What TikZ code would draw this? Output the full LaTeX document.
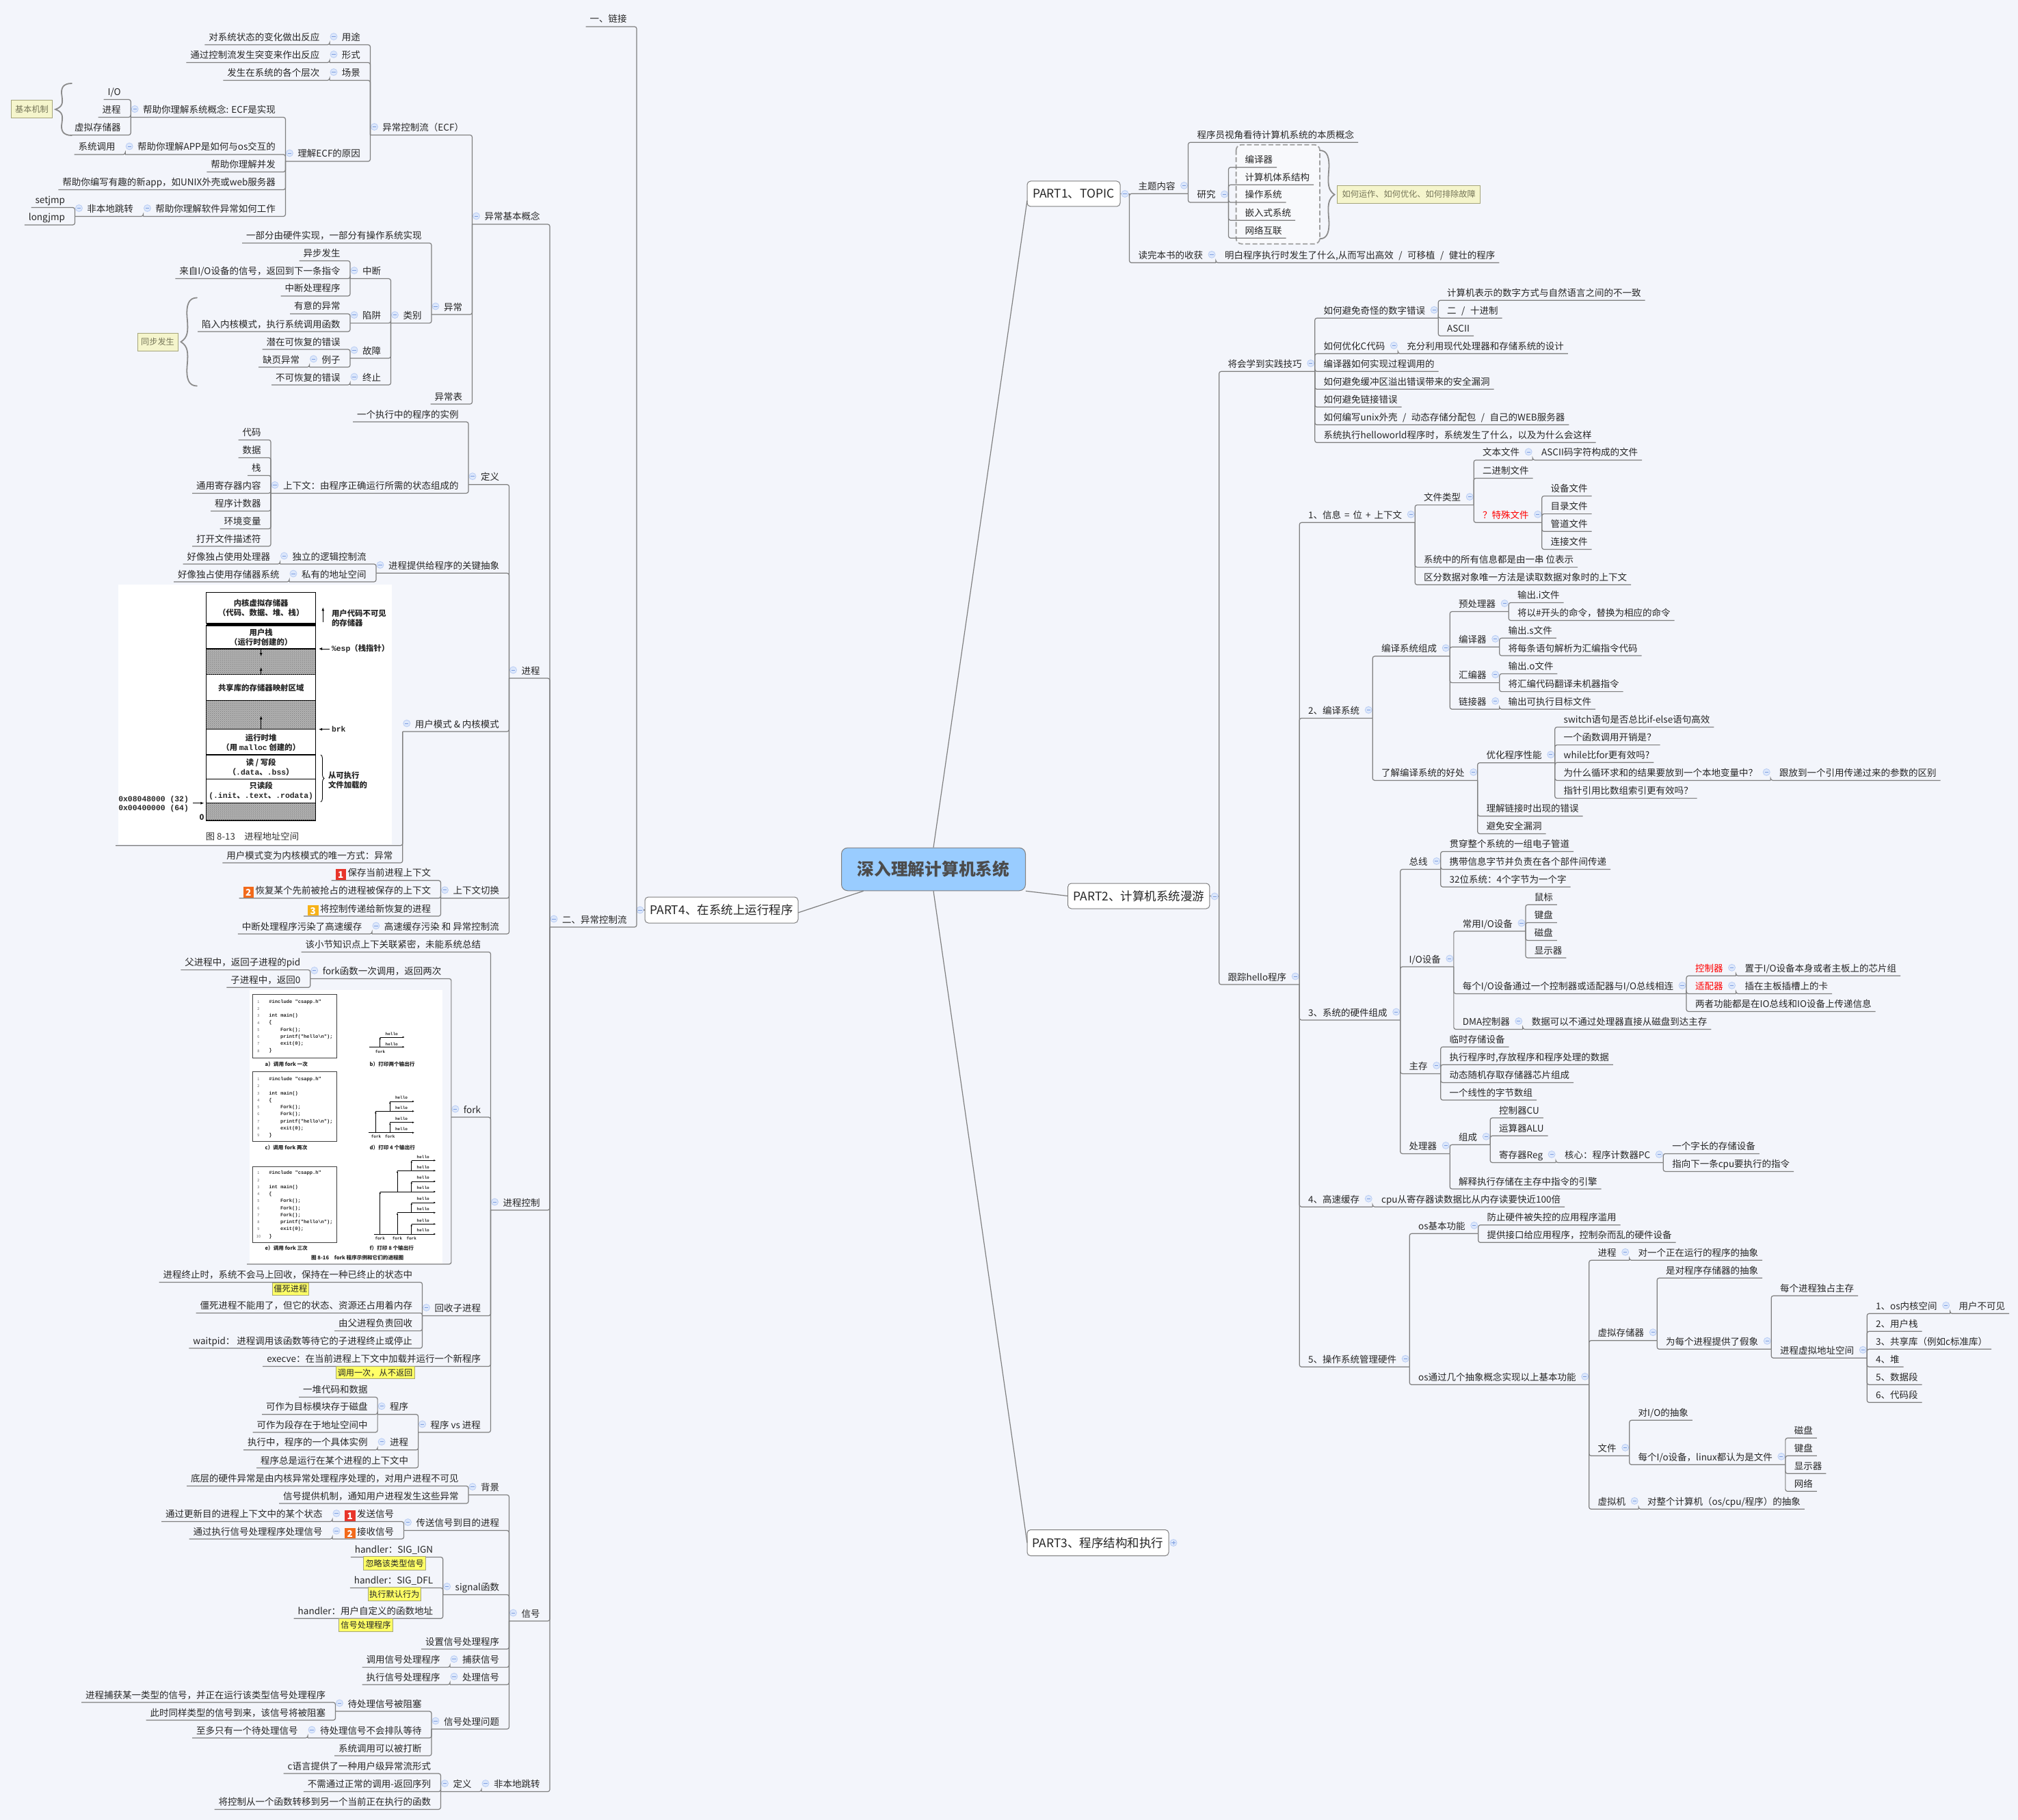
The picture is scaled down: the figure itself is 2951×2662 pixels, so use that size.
\documentclass[tikz,border=0pt]{standalone}
\usepackage{fontspec}
\setmainfont{Noto Sans CJK SC}
\newfontfamily\figmono{Liberation Mono}
\usetikzlibrary{arrows.meta,decorations.pathreplacing,patterns}

\definecolor{pagebg}{HTML}{F3F5FB}
\definecolor{linegray}{HTML}{7F7F7F}
\definecolor{rootblue}{HTML}{99CCFF}
\definecolor{foldfill}{HTML}{DCE7FB}
\definecolor{folddraw}{HTML}{B9CDF4}
\definecolor{foldminus}{HTML}{7C9DE0}
\definecolor{noteolive}{HTML}{F5F5CC}
\definecolor{noteedge}{HTML}{A5A57A}
\definecolor{notetext}{HTML}{77775A}
\definecolor{markyellow}{HTML}{FFFF66}
\definecolor{tagone}{HTML}{E8352B}
\definecolor{tagtwo}{HTML}{F26A1B}
\definecolor{tagthree}{HTML}{F7B218}

\tikzset{
  txt/.style={font=\fontsize{13.5}{15}\selectfont, text=black!85, inner xsep=0pt, inner ysep=2pt,
    text height=12pt, text depth=4pt, outer sep=0pt},
  lleaf/.style={txt, anchor=south east, execute at begin node={\hspace*{6pt}}, execute at end node={\hspace*{14.5pt}}},
  lbranch/.style={txt, anchor=south east, execute at begin node={\hspace*{18pt}}, execute at end node={\hspace*{14.5pt}}},
  rleaf/.style={txt, anchor=south west, execute at begin node={\hspace*{13pt}}, execute at end node={\hspace*{6pt}}},
  rbranch/.style={txt, anchor=south west, execute at begin node={\hspace*{13pt}}, execute at end node={\hspace*{19pt}}},
  link/.style={draw=linegray, line width=1.2pt, rounded corners=3pt},
  spoke/.style={draw=linegray, line width=1.2pt},
  foldc/.style={draw=folddraw, fill=foldfill, line width=.8pt},
  foldm/.style={draw=foldminus, line width=.8pt},
  hub/.style={inner sep=0pt, minimum size=0pt, outer sep=0pt},
  partbox/.style={draw=linegray, fill=white, rounded corners=5pt, line width=1pt, inner sep=0pt, outer sep=0pt,
    font=\fontsize{17.5}{20}\selectfont, text=black!85},
  bluenote/.style={draw=noteedge, fill=noteolive, line width=1pt, inner sep=0pt, outer sep=0pt,
    font=\fontsize{12.2}{14}\selectfont, text=notetext},
  marknote/.style={draw=noteedge, fill=markyellow, line width=1pt, inner sep=0pt, outer sep=0pt,
    font=\fontsize{12.2}{14}\selectfont, text=black!85},
  bracel/.style={draw=gray!90, line width=1.8pt, line cap=round},
  figtxt/.style={inner sep=0pt, outer sep=0pt, align=center, text=black!85,
    font=\fontsize{11.4}{13.7}\selectfont\bfseries},
  capt/.style={inner sep=0pt, outer sep=0pt, text=black!80, font=\fontsize{13.3}{15}\selectfont},
  stackrow/.style={draw=black, line width=1.4pt},
  grainrow/.style={draw=black, line width=1.4pt, fill=gray!60},
  grainover/.style={pattern=crosshatch dots, pattern color=black!55},
  figarrow/.style={line width=.9pt, -{Latex[length=5pt,width=4pt]}},
  codetxt/.style={inner sep=0pt, outer sep=0pt, anchor=west, text=black!85,
    font=\fontsize{7.1}{8}\selectfont\figmono\bfseries},
  numtxt/.style={inner sep=0pt, outer sep=0pt, text=black!60, font=\fontsize{5.5}{6}\selectfont},
  hellotxt/.style={inner sep=0pt, outer sep=0pt, text=black!85, font=\fontsize{6}{7}\selectfont\figmono\bfseries},
  smallcap/.style={inner sep=0pt, outer sep=0pt, anchor=west, text=black!85, font=\fontsize{7.6}{9}\selectfont\bfseries},
  treeln/.style={line width=.8pt, -{Latex[length=3pt,width=2.6pt]}},
}

% 节点 + 连线: 左侧分支与右侧分支
\newcommand\foldmark[1]{\draw[foldc] #1 circle[radius=5pt]; \draw[foldm] #1 ++(-2.6pt,0pt) -- ++(5.2pt,0pt);}
\newcommand\leafL[5][]{\node[lleaf,#1] (#3) at (#2.south west |- 0,#4) {#5};
  \draw[link] (#2.south west) |- (#3.south west);}
\newcommand\forkL[5][]{\node[lbranch,#1] (#3) at (#2.south west |- 0,#4) {#5};
  \draw[link] (#2.south west) |- (#3.south west);
  \foldmark{([shift={(6pt,12pt)}]#3.south west)}}
\newcommand\leafR[5][]{\node[rleaf,#1] (#3) at (#2.south east |- 0,#4) {#5};
  \draw[link] (#2.south east) |- (#3.south east);}
\newcommand\forkR[5][]{\node[rbranch,#1] (#3) at (#2.south east |- 0,#4) {#5};
  \draw[link] (#2.south east) |- (#3.south east);
  \foldmark{([shift={(-6pt,12pt)}]#3.south east)}}
\newcommand\seqtag[2]{\raisebox{-3pt}{\setlength{\fboxsep}{2pt}\colorbox{#1}{\makebox[11.5pt]{\rule{0pt}{11.5pt}\textcolor{white}{\bfseries #2}}}}\hspace{2.5pt}}
\newcommand\slashsep{\hspace{7.5pt}/\hspace{7.5pt}}
% 大括号: 起点 x, 尖端 x, 上 y, 下 y
\newcommand\bowbrace[4]{\pgfmathsetmacro{\dx}{#2-#1}\pgfmathsetmacro{\ymid}{(#3+#4)/2}\pgfmathsetmacro{\half}{(#4-#3)/2}
  \begin{scope}[shift={(#1,\ymid)}, x=\dx pt, y=-\half pt]
    \draw[bracel] (0,-1) .. controls (.5,-1) and (.7,-.85) .. (.6,-.5) .. controls (.55,-.25) and (.55,-.1) .. (1,0)
      .. controls (.55,.1) and (.55,.25) .. (.6,.5) .. controls (.7,.85) and (.5,1) .. (0,1);
  \end{scope}}
% 代码框
\newcommand\codebox[5]{\draw[line width=1pt, draw=black!75] (369.3,#2) rectangle (492.3,#3);
  \foreach \n/\ind/\cl in {#5}{
    \pgfmathsetmacro{\cy}{#4+(\n-1)*10.25}
    \pgfmathsetmacro{\cx}{393.3+\ind*16.7}
    \node[numtxt] (#1n\n) at (378,\cy) {\n};
    \node[codetxt] (#1t\n) at (\cx,\cy) {\cl};
  }}

\begin{document}
\begin{tikzpicture}[x=1pt, y=-1pt]
  \useasboundingbox (0,0) rectangle (2951,2662);
  \fill[pagebg] (0,0) rectangle (2951,2662);

  % 图 8-13 进程地址空间
  \fill[white] (172.7,854.7) rectangle (572.7,1235);
  \foreach \ya/\yb in {866.7/911.7, 915/949, 986.7/1024.3, 1066.7/1104, 1104/1139.3, 1139.3/1174.3}{
    \draw[stackrow] (301.7,\ya) rectangle (461.7,\yb);
  }
  \fill[black] (301.7,911) rectangle (461.7,915);
  \foreach \ya/\yb in {949/986.7, 1024.3/1066.7, 1174.3/1200}{
    \draw[grainrow] (301.7,\ya) rectangle (461.7,\yb);
    \fill[grainover] (301.7,\ya) rectangle (461.7,\yb);
  }
  \node[figtxt] (kernelseg) at (381.7,889) {内核虚拟存储器\\（代码、数据、堆、栈）};
  \node[figtxt] (ustackseg) at (381.7,932) {用户栈\\（运行时创建的）};
  \node[figtxt] (sharedseg) at (381.7,1006) {共享库的存储器映射区域};
  \node[figtxt] (heapseg) at (381.7,1086) {运行时堆\\（用 {\figmono malloc} 创建的）};
  \node[figtxt] (rwseg) at (381.7,1122) {读 / 写段\\（{\figmono .data}、{\figmono .bss}）};
  \node[figtxt] (roseg) at (381.7,1157) {只读段\\{\figmono(.init}、{\figmono.text}、{\figmono.rodata)}};
  \draw[figarrow] (381.7,949) -- (381.7,960);
  \draw[figarrow] (381.7,986.7) -- (381.7,976);
  \draw[figarrow] (381.7,1066.7) -- (381.7,1047);
  \draw[figarrow] (472.3,910) -- (472.3,888.3);
  \draw[figarrow] (481.7,949) -- (466,949);
  \draw[figarrow] (481.7,1066.7) -- (466,1066.7);
  \draw[figarrow] (282.3,1174.7) -- (298.3,1174.7);
  \draw[line width=.9pt, decorate, decoration={brace, amplitude=5pt}] (469,1104) -- (469,1173);
  \node[figtxt, anchor=west, align=left] (hiddennote) at (485,904) {用户代码不可见\\的存储器};
  \node[figtxt, anchor=west] (espnote) at (485,949) {{\figmono\%esp}（栈指针）};
  \node[figtxt, anchor=west] (brknote) at (485,1066.7) {{\figmono brk}};
  \node[figtxt, anchor=west, align=left] (loadnote) at (480,1141) {从可执行\\文件加载的};
  \node[figtxt, anchor=west] (addrone) at (173.3,1169.3) {\figmono 0x08048000 (32)};
  \node[figtxt, anchor=west] (addrtwo) at (173.3,1182.3) {\figmono 0x00400000 (64)};
  \node[figtxt] (addrzero) at (295,1195) {0};
  \node[capt] (procimgcap) at (369,1223) {图 8-13\quad 进程地址空间};

  % 图 8-16 fork 示例
  \fill[white] (365,1448.3) rectangle (646.7,1848.3);
  \codebox{coda}{1454}{1547.3}{1465.3}{1/0/\#include "csapp.h",2/0/{},3/0/int main(),4/0/\{,5/1/Fork();,6/1/printf("hello\textbackslash n");,7/1/exit(0);,8/0/\}}
  \codebox{codc}{1567.7}{1669.3}{1578.7}{1/0/\#include "csapp.h",2/0/{},3/0/int main(),4/0/\{,5/1/Fork();,6/1/Fork();,7/1/printf("hello\textbackslash n");,8/1/exit(0);,9/0/\}}
  \codebox{code}{1706}{1817.7}{1716}{1/0/\#include "csapp.h",2/0/{},3/0/int main(),4/0/\{,5/1/Fork();,6/1/Fork();,7/1/Fork();,8/1/printf("hello\textbackslash n");,9/1/exit(0);,10/0/\}}
  \node[smallcap] (capa) at (387.7,1556.3) {a）调用 fork 一次};
  \node[smallcap] (capb) at (540.7,1556.3) {b）打印两个输出行};
  \node[smallcap] (capc) at (387.7,1678.7) {c）调用 fork 两次};
  \node[smallcap] (capd) at (540.7,1678.7) {d）打印 4 个输出行};
  \node[smallcap] (cape) at (387.7,1825.3) {e）调用 fork 三次};
  \node[smallcap] (capf) at (540.7,1825.3) {f）打印 8 个输出行};
  \node[smallcap, anchor=center] (forkimgcap) at (522.7,1840) {图 8-16\quad fork 程序示例和它们的进程图};
  % b)
  \draw[treeln] (540,1531.3) -- (591.7,1531.3);
  \draw[treeln] (555.7,1531.3) -- (555.7,1517);
  \draw[treeln] (555.7,1517) -- (591.7,1517);
  \foreach \hy [count=\k] in {1512,1527}{\node[hellotxt] (hb\k) at (572.7,\hy) {hello};}
  \node[hellotxt] (fb) at (556,1538) {fork};
  % d)
  \draw[treeln] (539.3,1656.7) -- (606,1656.7);
  \foreach \fx/\fa/\fb in {549.3/1656.7/1625.3, 570.3/1656.7/1641.7, 570.3/1625.3/1611}{
    \draw[treeln] (\fx,\fa) -- (\fx,\fb);
    \draw[treeln] (\fx,\fb) -- (606,\fb);
  }
  \foreach \hy [count=\k] in {1605.7,1620.3,1636.7,1651.3}{\node[hellotxt] (hd\k) at (587,\hy) {hello};}
  \node[hellotxt] (fda) at (550,1662.7) {fork};
  \node[hellotxt] (fdb) at (570.3,1662.7) {fork};
  % f)
  \draw[treeln] (546.7,1805) -- (637.3,1805);
  \foreach \fx/\fa/\fb in {555.7/1805/1743, 581/1805/1773.7, 581/1743/1712.3, 601.7/1805/1790.3, 601.7/1773.7/1759, 601.7/1743/1728, 601.7/1712.3/1697.3}{
    \draw[treeln] (\fx,\fa) -- (\fx,\fb);
    \draw[treeln] (\fx,\fb) -- (637.3,\fb);
  }
  \foreach \hy [count=\k] in {1692,1707,1722.7,1737.3,1753.7,1768.3,1785,1799.7}{\node[hellotxt] (hf\k) at (618.7,\hy) {hello};}
  \node[hellotxt] (ffa) at (555.7,1811) {fork};
  \node[hellotxt] (ffb) at (581,1811) {fork};
  \node[hellotxt] (ffc) at (601.7,1811) {fork};

  % 中心主题 与 四个部分
  \node[draw=linegray, fill=rootblue, rounded corners=9pt, line width=1pt, inner sep=0pt, minimum width=269pt, minimum height=62.7pt,
    text=black!70, font=\fontsize{24.7}{28}\selectfont\bfseries] (root) at (1365,1271.4) {深入理解计算机系统};
  \node[partbox, minimum width=136pt, minimum height=37pt] (partone) at (1570,283.5) {PART1、TOPIC};
  \node[partbox, minimum width=207.3pt, minimum height=37pt] (parttwo) at (1665.3,1310.5) {PART2、计算机系统漫游};
  \node[partbox, minimum width=207pt, minimum height=38pt] (partthree) at (1605.5,2256.5) {PART3、程序结构和执行};
  \node[partbox, minimum width=224pt, minimum height=38pt] (partfour) at (1055,1331) {PART4、在系统上运行程序};
  \draw[spoke] (root.north) -- ([yshift=-10pt]partone.west);
  \draw[spoke] (root.south east) -- (parttwo.west);
  \draw[spoke] (root.south) -- (partthree.west);
  \draw[spoke] ([xshift=32.6pt]root.south west) -- ([yshift=-4pt]partfour.east);
  \node[hub] (hubone) at (1651.5,283.5) {};
  \node[hub] (hubtwo) at (1782.7,1311) {};
  \node[hub] (hubfour) at (931,1331) {};
  \draw[link] (partone.east) -- (hubone);
  \draw[link] (parttwo.east) -- (hubtwo);
  \draw[link] (partfour.west) -- (hubfour);
  \foldmark{([xshift=-6.5pt]hubone)}
  \foldmark{([xshift=-6.5pt]hubtwo)}
  \foldmark{([xshift=5pt]hubfour)}
  \draw[foldc] ([xshift=7pt]partthree.east) circle[radius=5pt];
  \draw[foldm] ([xshift=4.4pt]partthree.east) -- ([xshift=9.6pt]partthree.east);
  \draw[foldm] ([xshift=7pt,yshift=-2.6pt]partthree.east) -- ([xshift=7pt,yshift=2.6pt]partthree.east);

  % PART1
  \forkR{hubone}{topic}{283.3}{主题内容}
  \leafR{topic}{essence}{208.3}{程序员视角看待计算机系统的本质概念}
  \draw[draw=gray!75, fill=white, fill opacity=.45, dash pattern=on 7pt off 3.5pt, line width=1.8pt, rounded corners=8pt] (1807.6,211.7) rectangle (1930,356.7);
  \forkR{topic}{research}{296}{研究}
  \leafR[execute at begin node={\hspace*{11pt}}]{research}{compiler}{244.7}{编译器}
  \leafR[execute at begin node={\hspace*{11pt}}]{research}{archi}{270.3}{计算机体系结构}
  \leafR[execute at begin node={\hspace*{11pt}}]{research}{opsys}{296}{操作系统}
  \leafR[execute at begin node={\hspace*{11pt}}]{research}{embedded}{322.3}{嵌入式系统}
  \leafR[execute at begin node={\hspace*{11pt}}]{research}{network}{348.3}{网络互联}
  \bowbrace{1930}{1951.5}{220}{349.3}
  \node[bluenote, minimum width=209pt, minimum height=26pt] (hownote) at (2060.2,284.3) {如何运作、如何优化、如何排除故障};
  \forkR{hubone}{gain}{384.3}{读完本书的收获}
  \leafR{gain}{gaina}{384.3}{明白程序执行时发生了什么,从而写出高效\slashsep 可移植\slashsep 健壮的程序}

  % PART2 将会学到实践技巧
  \forkR{hubtwo}{skills}{543.3}{将会学到实践技巧}
  \forkR{skills}{numerr}{465.3}{如何避免奇怪的数字错误}
  \leafR{numerr}{numa}{439.3}{计算机表示的数字方式与自然语言之间的不一致}
  \leafR{numerr}{numb}{465.3}{二\slashsep 十进制}
  \leafR{numerr}{numc}{491.3}{ASCII}
  \forkR{skills}{optc}{517.3}{如何优化C代码}
  \leafR{optc}{optca}{517.3}{充分利用现代处理器和存储系统的设计}
  \leafR{skills}{skillc}{543.3}{编译器如何实现过程调用的}
  \leafR{skills}{skilld}{569.3}{如何避免缓冲区溢出错误带来的安全漏洞}
  \leafR{skills}{skille}{595.3}{如何避免链接错误}
  \leafR{skills}{skillf}{621.3}{如何编写unix外壳\slashsep 动态存储分配包\slashsep 自己的WEB服务器}
  \leafR{skills}{skillg}{647.3}{系统执行helloworld程序时，系统发生了什么，以及为什么会这样}

  % PART2 跟踪hello程序
  \forkR{hubtwo}{hello}{1440}{跟踪hello程序}
  \forkR{hello}{info}{764.3}{1、信息\hspace{5pt}=\hspace{5pt}位\hspace{5pt}+\hspace{5pt}上下文}
  \forkR{info}{filetype}{738.6}{文件类型}
  \forkR{filetype}{textfile}{672.9}{文本文件}
  \leafR{textfile}{textfilea}{672.9}{ASCII码字符构成的文件}
  \leafR{filetype}{binfile}{699.4}{二进制文件}
  \forkR[text=red]{filetype}{special}{764.3}{？特殊文件}
  \leafR{special}{speca}{725.5}{设备文件}
  \leafR{special}{specb}{751.6}{目录文件}
  \leafR{special}{specc}{777.3}{管道文件}
  \leafR{special}{specd}{803.5}{连接文件}
  \leafR{info}{infob}{829.6}{系统中的所有信息都是由一串 位表示}
  \leafR{info}{infoc}{855.3}{区分数据对象唯一方法是读取数据对象时的上下文}

  \forkR{hello}{compsys}{1050.4}{2、编译系统}
  \forkR{compsys}{parts}{959.8}{编译系统组成}
  \forkR{parts}{prep}{894.5}{预处理器}
  \leafR{prep}{prepa}{881.4}{输出.i文件}
  \leafR{prep}{prepb}{907.5}{将以\#开头的命令，替换为相应的命令}
  \forkR{parts}{comp}{946.3}{编译器}
  \leafR{comp}{compa}{933.3}{输出.s文件}
  \leafR{comp}{compb}{959}{将每条语句解析为汇编指令代码}
  \forkR{parts}{asmb}{998.6}{汇编器}
  \leafR{asmb}{asmba}{985.5}{输出.o文件}
  \leafR{asmb}{asmbb}{1011.6}{将汇编代码翻译未机器指令}
  \forkR{parts}{linker}{1037.3}{链接器}
  \leafR{linker}{linkera}{1037.3}{输出可执行目标文件}
  \forkR{compsys}{benefit}{1141.4}{了解编译系统的好处}
  \forkR{benefit}{perf}{1115.7}{优化程序性能}
  \leafR{perf}{perfa}{1063.5}{switch语句是否总比if-else语句高效}
  \leafR{perf}{perfb}{1089.6}{一个函数调用开销是？}
  \leafR{perf}{perfc}{1115.3}{while比for更有效吗?}
  \forkR{perf}{perfd}{1141.4}{为什么循环求和的结果要放到一个本地变量中？}
  \leafR{perfd}{perfda}{1141.4}{跟放到一个引用传递过来的参数的区别}
  \leafR{perf}{perfe}{1167.6}{指针引用比数组索引更有效吗？}
  \leafR{benefit}{benb}{1193.7}{理解链接时出现的错误}
  \leafR{benefit}{benc}{1219.4}{避免安全漏洞}

  \forkR{hello}{hardware}{1492}{3、系统的硬件组成}
  \forkR{hardware}{bus}{1271.5}{总线}
  \leafR{bus}{busa}{1245.5}{贯穿整个系统的一组电子管道}
  \leafR{bus}{busb}{1271.5}{携带信息字节并负责在各个部件间传递}
  \leafR{bus}{busc}{1297.2}{32位系统：4个字节为一个字}
  \forkR{hardware}{iodev}{1414}{I/O设备}
  \forkR{iodev}{common}{1362}{常用I/O设备}
  \leafR{common}{mouse}{1323.3}{鼠标}
  \leafR{common}{keyboard}{1349.4}{键盘}
  \leafR{common}{disk}{1375.5}{磁盘}
  \leafR{common}{display}{1401}{显示器}
  \forkR{iodev}{iolink}{1453.4}{每个I/O设备通过一个控制器或适配器与I/O总线相连}
  \forkR[text=red]{iolink}{ctrl}{1427.3}{控制器}
  \leafR{ctrl}{ctrla}{1427.3}{置于I/O设备本身或者主板上的芯片组}
  \forkR[text=red]{iolink}{adapter}{1453.4}{适配器}
  \leafR{adapter}{adaptera}{1453.4}{插在主板插槽上的卡}
  \leafR{iolink}{iolinkc}{1479.4}{两者功能都是在IO总线和IO设备上传递信息}
  \forkR{iodev}{dma}{1505.5}{DMA控制器}
  \leafR{dma}{dmaa}{1505.5}{数据可以不通过处理器直接从磁盘到达主存}
  \forkR{hardware}{mainmem}{1570.4}{主存}
  \leafR{mainmem}{mema}{1531.2}{临时存储设备}
  \leafR{mainmem}{memb}{1557.3}{执行程序时,存放程序和程序处理的数据}
  \leafR{mainmem}{memc}{1583.4}{动态随机存取存储器芯片组成}
  \leafR{mainmem}{memd}{1609}{一个线性的字节数组}
  \forkR{hardware}{cpu}{1687.4}{处理器}
  \forkR{cpu}{cpuparts}{1674.3}{组成}
  \leafR{cpuparts}{cpucu}{1635}{控制器CU}
  \leafR{cpuparts}{cpualu}{1661.3}{运算器ALU}
  \forkR{cpuparts}{cpureg}{1700.4}{寄存器Reg}
  \forkR{cpureg}{cpupc}{1700.4}{核心：程序计数器PC}
  \leafR{cpupc}{pca}{1687.4}{一个字长的存储设备}
  \leafR{cpupc}{pcb}{1713.4}{指向下一条cpu要执行的指令}
  \leafR{cpu}{cpub}{1739}{解释执行存储在主存中指令的引擎}

  \forkR{hello}{cache}{1765.2}{4、高速缓存}
  \leafR{cache}{cachea}{1765.2}{cpu从寄存器读数据比从内存读要快近100倍}

  \forkR{hello}{osmanage}{1999.3}{5、操作系统管理硬件}
  \forkR{osmanage}{osbasic}{1804.3}{os基本功能}
  \leafR{osbasic}{osbasica}{1791.7}{防止硬件被失控的应用程序滥用}
  \leafR{osbasic}{osbasicb}{1817.3}{提供接口给应用程序，控制杂而乱的硬件设备}
  \forkR{osmanage}{osabs}{2025.3}{os通过几个抽象概念实现以上基本功能}
  \forkR{osabs}{absproc}{1843.3}{进程}
  \leafR{absproc}{absproca}{1843.3}{对一个正在运行的程序的抽象}
  \forkR{osabs}{vmem}{1960.7}{虚拟存储器}
  \leafR{vmem}{vmema}{1869.3}{是对程序存储器的抽象}
  \forkR{vmem}{illusion}{1973.3}{为每个进程提供了假象}
  \leafR{illusion}{illusa}{1895.3}{每个进程独占主存}
  \forkR{illusion}{vaddr}{1986.3}{进程虚拟地址空间}
  \forkR{vaddr}{kernel}{1921.3}{1、os内核空间}
  \leafR{kernel}{kernela}{1921.3}{用户不可见}
  \leafR{vaddr}{ustack}{1947.3}{2、用户栈}
  \leafR{vaddr}{shlib}{1973.3}{3、共享库（例如c标准库）}
  \leafR{vaddr}{heapa}{1999.3}{4、堆}
  \leafR{vaddr}{dataseg}{2025.3}{5、数据段}
  \leafR{vaddr}{codeseg}{2051.3}{6、代码段}
  \forkR{osabs}{absfile}{2129.3}{文件}
  \leafR{absfile}{absfilea}{2077.3}{对I/O的抽象}
  \forkR{absfile}{everyio}{2142.3}{每个I/o设备，linux都认为是文件}
  \leafR{everyio}{ioa}{2103.3}{磁盘}
  \leafR{everyio}{iob}{2129.3}{键盘}
  \leafR{everyio}{ioc}{2155.3}{显示器}
  \leafR{everyio}{iod}{2181.3}{网络}
  \forkR{osabs}{vm}{2207.3}{虚拟机}
  \leafR{vm}{vma}{2207.3}{对整个计算机（os/cpu/程序）的抽象}

  % PART4 一、链接 二、异常控制流
  \leafL{hubfour}{linkage}{39}{一、链接}
  \forkL{hubfour}{ecfchap}{1356}{二、异常控制流}

  % 异常基本概念
  \forkL{ecfchap}{basics}{328}{异常基本概念}
  \forkL{basics}{ecf}{197.5}{异常控制流（ECF）\hspace*{-2pt}}
  \forkL{ecf}{ecfuse}{65.5}{用途}
  \leafL{ecfuse}{ecfusea}{65.5}{对系统状态的变化做出反应}
  \forkL{ecf}{ecfform}{91.5}{形式}
  \leafL{ecfform}{ecfforma}{91.5}{通过控制流发生突变来作出反应}
  \forkL{ecf}{ecfscene}{117.5}{场景}
  \leafL{ecfscene}{ecfscenea}{117.5}{发生在系统的各个层次}
  \forkL{ecf}{why}{236}{理解ECF的原因}
  \forkL{why}{whya}{171.5}{帮助你理解系统概念: ECF是实现}
  \leafL{whya}{mechio}{145.5}{I/O}
  \leafL{whya}{mechproc}{171.5}{进程}
  \leafL{whya}{mechvm}{197.5}{虚拟存储器}
  \forkL{why}{whyb}{226}{帮助你理解APP是如何与os交互的}
  \leafL{whyb}{syscall}{226}{系统调用}
  \leafL{why}{whyc}{251.5}{帮助你理解并发}
  \leafL{why}{whyd}{277.5}{帮助你编写有趣的新app，如UNIX外壳或web服务器}
  \forkL{why}{whye}{316.5}{帮助你理解软件异常如何工作}
  \forkL{whye}{nonlocal}{316.5}{非本地跳转}
  \leafL{nonlocal}{setjmp}{303.5}{setjmp}
  \leafL{nonlocal}{longjmp}{329}{longjmp}
  \node[bluenote, minimum width=60pt, minimum height=26pt] (mechnote) at (46.5,159.6) {基本机制};
  \bowbrace{105}{81}{122}{198}

  \forkL{basics}{excep}{460}{异常}
  \leafL{excep}{excepa}{355.5}{一部分由硬件实现，一部分有操作系统实现}
  \forkL{excep}{kinds}{472.6}{类别}
  \forkL{kinds}{intr}{407.6}{中断}
  \leafL{intr}{intra}{381.5}{异步发生}
  \leafL{intr}{intrb}{407.6}{来自I/O设备的信号，返回到下一条指令}
  \leafL{intr}{intrc}{433}{中断处理程序}
  \forkL{kinds}{trap}{472.6}{陷阱}
  \leafL{trap}{trapa}{459}{有意的异常}
  \leafL{trap}{trapb}{485}{陷入内核模式，执行系统调用函数}
  \forkL{kinds}{fault}{524}{故障}
  \leafL{fault}{faulta}{511}{潜在可恢复的错误}
  \forkL{fault}{faultb}{537}{例子}
  \leafL{faultb}{faultba}{537}{缺页异常}
  \forkL{kinds}{abort}{563}{终止}
  \leafL{abort}{aborta}{563}{不可恢复的错误}
  \node[bluenote, minimum width=59pt, minimum height=26pt] (syncnote) at (230.5,500) {同步发生};
  \bowbrace{288}{264.5}{435.5}{564.5}
  \leafL{basics}{exctable}{591}{异常表}

  % 进程
  \forkL{ecfchap}{process}{992}{进程}
  \forkL{process}{procdef}{708.7}{定义}
  \leafL{procdef}{procdefa}{617}{一个执行中的程序的实例}
  \forkL{procdef}{context}{721.4}{上下文：由程序正确运行所需的状态组成的}
  \leafL{context}{ctxa}{643.4}{代码}
  \leafL{context}{ctxb}{669.4}{数据}
  \leafL{context}{ctxc}{695.4}{栈}
  \leafL{context}{ctxd}{721.4}{通用寄存器内容}
  \leafL{context}{ctxe}{747.4}{程序计数器}
  \leafL{context}{ctxf}{773.5}{环境变量}
  \leafL{context}{ctxg}{799}{打开文件描述符}
  \forkL{process}{keyabs}{838.3}{进程提供给程序的关键抽象}
  \forkL{keyabs}{logicflow}{825}{独立的逻辑控制流}
  \leafL{logicflow}{logicflowa}{825}{好像独占使用处理器}
  \forkL{keyabs}{privspace}{851}{私有的地址空间}
  \leafL{privspace}{privspacea}{851}{好像独占使用存储器系统}
  \forkL{process}{usermode}{1070}{用户模式 \& 内核模式}
  \coordinate (procimgend) at (169,1236.7);
  \draw[link] (usermode.south west) |- (procimgend);
  \leafL{usermode}{modeonly}{1262}{用户模式变为内核模式的唯一方式：异常}
  \forkL{process}{ctxswitch}{1313.8}{上下文切换}
  \leafL{ctxswitch}{switcha}{1287.8}{\seqtag{tagone}{1}保存当前进程上下文}
  \leafL{ctxswitch}{switchb}{1313.8}{\seqtag{tagtwo}{2}恢复某个先前被抢占的进程被保存的上下文}
  \leafL{ctxswitch}{switchc}{1340}{\seqtag{tagthree}{3}将控制传递给新恢复的进程}
  \forkL{process}{pollute}{1366}{高速缓存污染 和 异常控制流}
  \leafL{pollute}{pollutea}{1366}{中断处理程序污染了高速缓存}

  % 进程控制
  \forkL{ecfchap}{procctrl}{1770}{进程控制}
  \leafL{procctrl}{ctrlnote}{1392.4}{该小节知识点上下关联紧密，未能系统总结}
  \forkL{procctrl}{fork}{1634}{fork}
  \forkL{fork}{forktwice}{1431.4}{fork函数一次调用，返回两次}
  \leafL{forktwice}{forkparent}{1418.6}{父进程中，返回子进程的pid}
  \leafL{forktwice}{forkchild}{1444.3}{子进程中，返回0}
  \coordinate (forkimgend) at (361,1849);
  \draw[link] (fork.south west) |- (forkimgend);
  \forkL{procctrl}{reap}{1924.5}{回收子进程}
  \leafL{reap}{reapa}{1875.4}{进程终止时，系统不会马上回收，保持在一种已终止的状态中}
  \leafL{reap}{reapb}{1920.4}{僵死进程不能用了，但它的状态、资源还占用着内存}
  \leafL{reap}{reapc}{1946.6}{由父进程负责回收}
  \leafL{reap}{reapd}{1972}{waitpid： 进程调用该函数等待它的子进程终止或停止}
  \node[marknote, minimum width=53.6pt, minimum height=18pt] (zombienote) at (424.8,1885) {僵死进程};
  \leafL{procctrl}{execve}{1998.5}{execve：在当前进程上下文中加载并运行一个新程序}
  \node[marknote, minimum width=115pt, minimum height=18.5pt] (oncenote) at (548.5,2007.7) {调用一次，从不返回};
  \forkL{procctrl}{progvs}{2095}{程序 vs 进程}
  \forkL{progvs}{prog}{2068.7}{程序}
  \leafL{prog}{proga}{2043.5}{一堆代码和数据}
  \leafL{prog}{progb}{2068.7}{可作为目标模块存于磁盘}
  \leafL{prog}{progc}{2095}{可作为段存在于地址空间中}
  \forkL{progvs}{procvs}{2120.8}{进程}
  \leafL{procvs}{procvsa}{2120.8}{执行中，程序的一个具体实例}
  \leafL{progvs}{procvsb}{2147}{程序总是运行在某个进程的上下文中}

  % 信号
  \forkL{ecfchap}{signal}{2371}{信号}
  \forkL{signal}{sigbg}{2186.5}{背景}
  \leafL{sigbg}{sigbga}{2173.5}{底层的硬件异常是由内核异常处理程序处理的，对用户进程不可见}
  \leafL{sigbg}{sigbgb}{2199}{信号提供机制，通知用户进程发生这些异常}
  \forkL{signal}{sigsend}{2238.5}{传送信号到目的进程}
  \forkL{sigsend}{sendsig}{2225.5}{\seqtag{tagone}{1}发送信号}
  \leafL{sendsig}{sendsiga}{2225.5}{通过更新目的进程上下文中的某个状态}
  \forkL{sigsend}{recvsig}{2251}{\seqtag{tagtwo}{2}接收信号}
  \leafL{recvsig}{recvsiga}{2251}{通过执行信号处理程序处理信号}
  \forkL{signal}{sigfunc}{2332.4}{signal函数}
  \leafL{sigfunc}{sigign}{2277.5}{handler：SIG\_IGN}
  \leafL{sigfunc}{sigdfl}{2322.4}{handler：SIG\_DFL}
  \leafL{sigfunc}{sigusr}{2367.3}{handler：用户自定义的函数地址}
  \node[marknote, minimum width=91pt, minimum height=19.7pt] (ignnote) at (577.2,2286.5) {忽略该类型信号};
  \node[marknote, minimum width=77.6pt, minimum height=19.7pt] (dflnote) at (576.8,2331.8) {执行默认行为};
  \node[marknote, minimum width=79pt, minimum height=19.6pt] (usrnote) at (535,2376.8) {信号处理程序};
  \leafL{signal}{sigset}{2412}{设置信号处理程序}
  \forkL{signal}{sigcatch}{2438.6}{捕获信号}
  \leafL{sigcatch}{sigcatcha}{2438.6}{调用信号处理程序}
  \forkL{signal}{sighandle}{2464}{处理信号}
  \leafL{sighandle}{sighandlea}{2464}{执行信号处理程序}
  \forkL{signal}{sigissue}{2529}{信号处理问题}
  \forkL{sigissue}{blocked}{2503}{待处理信号被阻塞}
  \leafL{blocked}{blockeda}{2490}{进程捕获某一类型的信号，并正在运行该类型信号处理程序}
  \leafL{blocked}{blockedb}{2516}{此时同样类型的信号到来，该信号将被阻塞}
  \forkL{sigissue}{noqueue}{2542}{待处理信号不会排队等待}
  \leafL{noqueue}{noqueuea}{2542}{至多只有一个待处理信号}
  \leafL{sigissue}{interrupted}{2568}{系统调用可以被打断}

  % 非本地跳转
  \forkL{ecfchap}{nonlocaljump}{2620.5}{非本地跳转}
  \forkL{nonlocaljump}{jumpdef}{2620.5}{定义}
  \leafL{jumpdef}{jumpa}{2594}{c语言提供了一种用户级异常流形式}
  \leafL{jumpdef}{jumpb}{2620.5}{不需通过正常的调用-返回序列}
  \leafL{jumpdef}{jumpc}{2646.4}{将控制从一个函数转移到另一个当前正在执行的函数}
\end{tikzpicture}
\end{document}
